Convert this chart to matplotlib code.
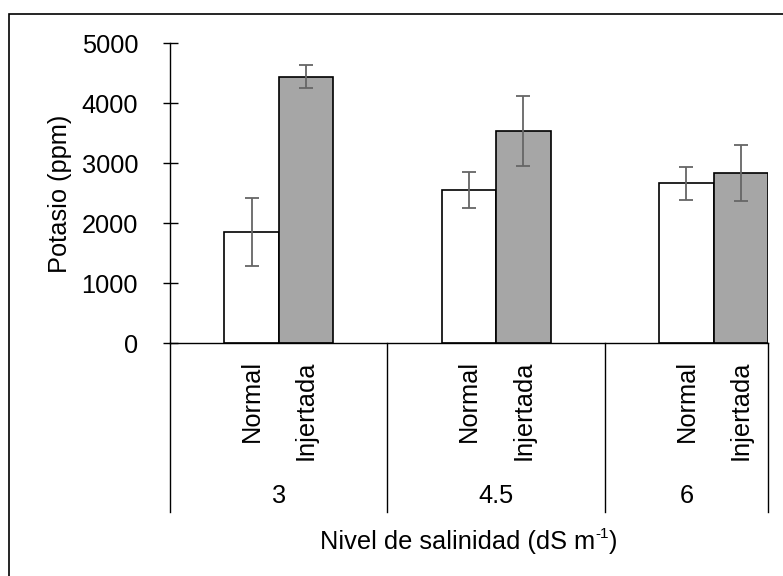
import matplotlib.pyplot as plt
from matplotlib.patches import Rectangle
import numpy as np

# data
groups = ['3', '4.5', '6']
types = ['Normal', 'Injertada']
normal = [1860, 2555, 2667]
normal_err = [567, 300, 275]
injertada = [4443, 3538, 2833]
injertada_err = [190, 589, 467]

plt.rcParams['font.family'] = ['Liberation Sans', 'DejaVu Sans']
plt.rcParams['font.size'] = 18.3

W, H = 783, 576
fig = plt.figure(figsize=(W / 100, H / 100), dpi=100)
ax = fig.add_axes([170 / W, 1 - 343.3 / H, (768 - 170) / W, 300 / H])

# Excel style: 4 slots per group (blank, Normal, Injertada, blank), last one without trailing blank
x_norm = np.array([1 + 4 * g for g in range(len(groups))])
x_inj = x_norm + 1
errkw = dict(ecolor='#666666', elinewidth=1.3, capsize=5, capthick=1.3)
ax.bar(x_norm, normal, width=1, color='white', edgecolor='black', linewidth=1.2,
       yerr=normal_err, error_kw=errkw, zorder=2)
ax.bar(x_inj, injertada, width=1, color='#a6a6a6', edgecolor='black', linewidth=1.2,
       yerr=injertada_err, error_kw=errkw, zorder=2)

ax.set_xlim(-0.5, 10.5)
ax.set_ylim(0, 5000)
ax.set_yticks(range(0, 5001, 1000))
ax.set_xticks([])
for s in ['top', 'right']:
    ax.spines[s].set_visible(False)
for s in ['left', 'bottom']:
    ax.spines[s].set_linewidth(1.0)
ax.tick_params(axis='y', direction='inout', length=10.8, width=1.0, pad=17.6)

# multi-level category axis
trans = ax.get_xaxis_transform()
for xs in [-0.5, 3.5, 7.5, 10.5]:
    ax.plot([xs, xs], [0, -0.563], transform=trans, color='black', lw=1.0, clip_on=False)
for g, lab in enumerate(groups):
    ax.text(x_norm[g], -0.056, types[0], rotation=90, ha='center', va='top', transform=trans)
    ax.text(x_inj[g], -0.056, types[1], rotation=90, ha='center', va='top', transform=trans)
    lo = -0.5 + 4 * g
    hi = min(lo + 4, 10.5)
    ax.text((lo + hi) / 2, -0.509, lab, ha='center', va='center', transform=trans)

# x title with small superscript, built from pieces
r = fig.canvas.get_renderer()
parts = [('Nivel de salinidad (dS m', 18.3, 0), ('-1', 11, 8), (')', 18.3, 0)]
widths = []
for s, fs, dy in parts:
    t = fig.text(0, 0, s, fontsize=fs)
    widths.append(t.get_window_extent(r).width)
    t.remove()
x0 = 469 - sum(widths) / 2
for (s, fs, dy), w in zip(parts, widths):
    fig.text(x0 / W, (H - 540 + dy) / H, s, fontsize=fs, ha='left', va='center_baseline' if dy == 0 else 'center_baseline')
    x0 += w

fig.text(60 / W, 1 - 194 / H, 'Potasio (ppm)', rotation=90, ha='center', va='center')

# chart area border (only top and left visible in the reference)
fig.patches.append(Rectangle((8.5 / W, -0.1), 2, 1 - 14 / H + 0.1, transform=fig.transFigure,
                             fill=False, edgecolor='black', lw=1.2))

fig.savefig('out.png', dpi=100)
